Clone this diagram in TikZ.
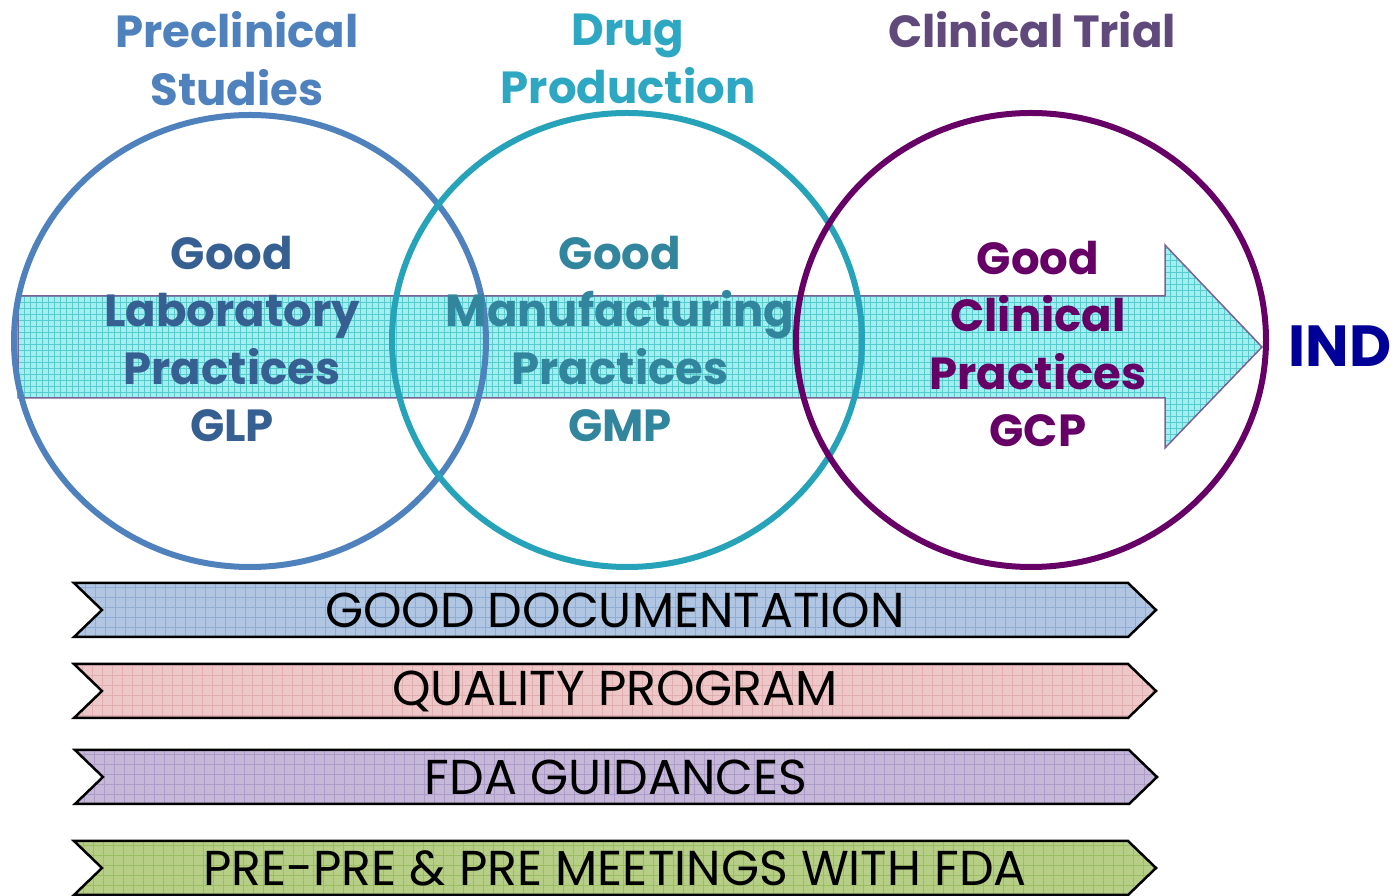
\documentclass[tikz,border=0pt]{standalone}
\usepackage{fontspec}
\setmainfont{Poppins}
\usetikzlibrary{shapes.symbols}

\definecolor{preclin}{HTML}{4F81BD}
\definecolor{glptext}{HTML}{376092}
\definecolor{drugprod}{HTML}{2EA8C2}
\definecolor{drugring}{HTML}{27A3B9}
\definecolor{gmptext}{HTML}{31859C}
\definecolor{clintitle}{HTML}{604A7B}
\definecolor{clinring}{HTML}{660066}
\definecolor{indtext}{HTML}{000099}
\definecolor{arrowfill}{HTML}{A6EEEE}
\definecolor{arrowgrid}{HTML}{55CCD0}
\definecolor{arrowline}{HTML}{7A6296}
\definecolor{docfill}{HTML}{B1C6E2}
\definecolor{docgrid}{HTML}{8EAED6}
\definecolor{qualfill}{HTML}{EEC8C8}
\definecolor{qualgrid}{HTML}{E0AEAE}
\definecolor{fdafill}{HTML}{C6B8D8}
\definecolor{fdagrid}{HTML}{AE9CC8}
\definecolor{meetfill}{HTML}{B6CE86}
\definecolor{meetgrid}{HTML}{9CBE62}

\tikzset{
  ring/.style={line width=6bp},
  heading/.style={font=\bfseries\fontsize{45bp}{58bp}\selectfont, align=center},
  practice/.style={font=\bfseries\fontsize{45bp}{57.5bp}\selectfont, align=center},
  banner/.style={signal, signal from=west, signal to=east, signal pointer angle=88,
    draw=black, line width=2.5bp, minimum width=1082bp, minimum height=54bp,
    inner sep=0pt, font=\fontsize{49bp}{50bp}\selectfont},
}

\begin{document}
\begin{tikzpicture}[line join=miter]
\useasboundingbox (0bp,0bp) rectangle (1396bp,896bp);
%% process arrow behind the rings
\path[draw=arrowline, line width=1.5bp, fill=arrowfill, path picture={
    \draw[arrowgrid, line width=0.5bp, step=6bp]
      (path picture bounding box.south west) grid (path picture bounding box.north east);}]
  (18bp,600bp) -- (1165bp,600bp) -- (1165bp,651bp) -- (1262bp,549bp)
  -- (1165bp,448bp) -- (1165bp,498bp) -- (18bp,498bp) -- cycle;
%% rings
\draw[ring, draw=preclin] (250bp,555bp) ellipse [x radius=236bp, y radius=226bp];
\draw[ring, draw=drugring] (627bp,556bp) ellipse [x radius=235bp, y radius=227bp];
\draw[ring, draw=clinring] (1031bp,556bp) ellipse [x radius=235bp, y radius=227bp];
%% headings
\node (pretitle) at (237bp,837bp) [heading, text=preclin] {Preclinical\\Studies};
\node (drugtitle) at (628bp,837bp) [heading, text=drugprod] {Drug\\Production};
\node (clintitle) at (1032bp,866bp) [heading, text=clintitle] {Clinical Trial};
%% practices
\node (glp) at (232bp,557bp) [practice, text=glptext] {Good\\Laboratory\\Practices\\GLP};
\node (gmp) at (620bp,557bp) [practice, text=gmptext] {Good\\Manufacturing\\Practices\\GMP};
\node (gcp) at (1038bp,552bp) [practice, text=clinring] {Good\\Clinical\\Practices\\GCP};
\node (ind) at (1340bp,550bp) [font=\bfseries\fontsize{58bp}{60bp}\selectfont, text=indtext] {IND};
%% banners
\node (doc) at (615bp,286bp) [banner, fill=docfill, path picture={
    \draw[docgrid, line width=0.6bp, step=10bp]
      (path picture bounding box.south west) grid (path picture bounding box.north east);}] {GOOD DOCUMENTATION};
\node (qual) at (615bp,205bp) [banner, fill=qualfill, path picture={
    \draw[qualgrid, line width=0.6bp, step=10bp]
      (path picture bounding box.south west) grid (path picture bounding box.north east);}] {QUALITY PROGRAM};
\node (fda) at (616bp,119bp) [banner, fill=fdafill, path picture={
    \draw[fdagrid, line width=0.6bp, step=10bp]
      (path picture bounding box.south west) grid (path picture bounding box.north east);}] {FDA GUIDANCES};
\node (meet) at (615bp,28bp) [banner, fill=meetfill, path picture={
    \draw[meetgrid, line width=0.6bp, step=10bp]
      (path picture bounding box.south west) grid (path picture bounding box.north east);}] {PRE-PRE \& PRE MEETINGS WITH FDA};
%
\end{tikzpicture}
\end{document}
